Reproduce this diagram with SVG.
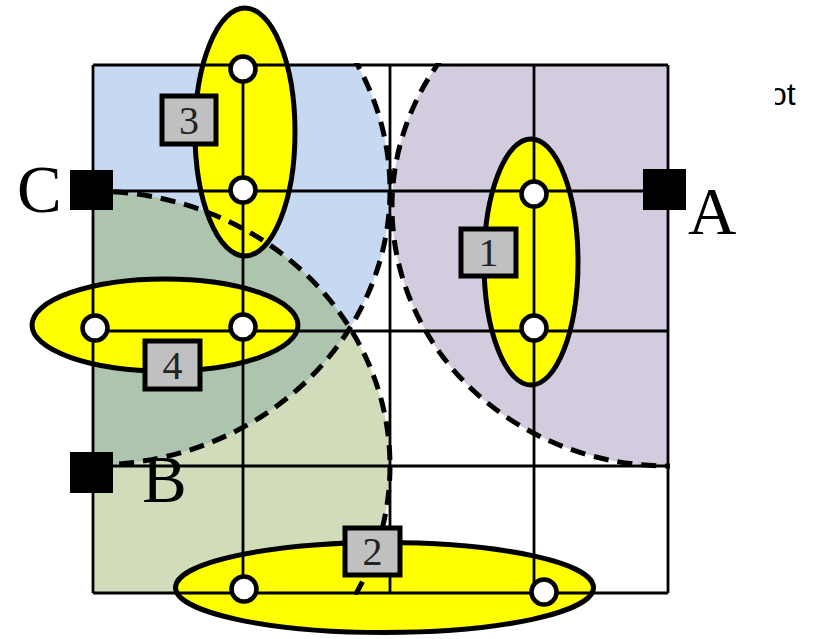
<svg xmlns="http://www.w3.org/2000/svg" width="817" height="639" viewBox="0 0 817 639">
<defs>
<clipPath id="gridClip"><rect x="91" y="63" width="579" height="532"/></clipPath>
<clipPath id="blueClip"><ellipse cx="93" cy="190" rx="297" ry="275"/></clipPath>
<clipPath id="fillClip"><rect x="93" y="65" width="575" height="528"/></clipPath>
<clipPath id="otClip"><rect x="775" y="60" width="42" height="60"/></clipPath>
</defs>
<style>
.dash{fill:none;stroke:#000;stroke-width:5;stroke-dasharray:15 9}
.gl{stroke:#000;stroke-width:2.8;fill:none}
.yel{fill:#ffff00;stroke:#000;stroke-width:5}
.node{fill:#fff;stroke:#000;stroke-width:4.5}
.box{fill:#c0c0c0;stroke:#000;stroke-width:5}
.num{font-family:"Liberation Serif","Times New Roman",serif;font-size:40px;fill:#222;text-anchor:middle}
.big{font-family:"Liberation Serif","Times New Roman",serif;font-size:67px;fill:#000}
.term{fill:#000}
</style>
<rect x="0" y="0" width="817" height="639" fill="#fff"/>

<g id="regions" clip-path="url(#fillClip)">
<ellipse id="region-B" cx="93" cy="466" rx="297" ry="275" fill="#d1dcba"/>
<ellipse id="region-C" cx="93" cy="190" rx="297" ry="275" fill="#c6d9f0"/>
<ellipse id="region-BC" cx="93" cy="466" rx="297" ry="275" fill="#adc4ae" clip-path="url(#blueClip)"/>
<ellipse id="region-A" cx="668" cy="207" rx="276" ry="259" fill="#d3cbde"/>
</g>

<g id="cluster-3"><ellipse class="yel" cx="245" cy="132" rx="50" ry="124"/></g>
<g id="cluster-1"><ellipse class="yel" cx="531" cy="262" rx="47" ry="123"/></g>
<g id="cluster-4"><ellipse class="yel" cx="165" cy="325" rx="133" ry="46"/></g>
<g id="cluster-2"><ellipse class="yel" cx="384.5" cy="587.5" rx="209" ry="45"/></g>

<g id="ranges" clip-path="url(#gridClip)">
<ellipse class="dash" cx="93" cy="466" rx="297" ry="275"/>
<ellipse class="dash" cx="93" cy="190" rx="297" ry="275"/>
<ellipse class="dash" cx="668" cy="207" rx="276" ry="259"/>
</g>

<g id="connectors">
<line class="gl" x1="93" y1="65" x2="93" y2="593"/>
<line class="gl" x1="243" y1="65" x2="243" y2="593"/>
<line class="gl" x1="390" y1="65" x2="390" y2="593"/>
<line class="gl" x1="534" y1="65" x2="534" y2="593"/>
<line class="gl" x1="668" y1="65" x2="668" y2="593"/>
<line class="gl" x1="93" y1="65" x2="668" y2="65"/>
<line class="gl" x1="93" y1="191" x2="668" y2="191"/>
<line class="gl" x1="93" y1="331" x2="668" y2="331"/>
<line class="gl" x1="93" y1="466" x2="668" y2="466"/>
<line class="gl" x1="93" y1="593" x2="668" y2="593"/>
</g>

<g id="nodes">
<circle class="node" cx="243" cy="69" r="12.5"/>
<circle class="node" cx="243" cy="190" r="12.5"/>
<circle class="node" cx="534" cy="194" r="12.5"/>
<circle class="node" cx="534" cy="328" r="12.5"/>
<circle class="node" cx="95" cy="328" r="12.5"/>
<circle class="node" cx="243" cy="327" r="12.5"/>
<circle class="node" cx="244" cy="589" r="12.5"/>
<circle class="node" cx="544" cy="592" r="12.5"/>
</g>

<g id="label-3"><rect class="box" x="162" y="96" width="54" height="48"/><text class="num" x="189" y="134">3</text></g>
<g id="label-1"><rect class="box" x="461" y="229" width="55" height="47"/><text class="num" x="488.5" y="266">1</text></g>
<g id="label-4"><rect class="box" x="145" y="341" width="55" height="48"/><text class="num" x="172.5" y="379">4</text></g>
<g id="label-2"><rect class="box" x="345" y="528" width="55" height="47"/><text class="num" x="372.5" y="565">2</text></g>

<g id="station-C"><rect class="term" x="70" y="170" width="43" height="40"/><text class="big" x="17" y="212">C</text></g>
<g id="station-A"><rect class="term" x="643" y="169" width="43" height="41"/><text class="big" x="688" y="234">A</text></g>
<g id="station-B"><rect class="term" x="70" y="452" width="43" height="41"/><text class="big" x="142" y="502">B</text></g>

<g id="caption" clip-path="url(#otClip)"><text x="769" y="105" font-family="'Liberation Sans',Arial,sans-serif" font-size="32" fill="#000">ot</text></g>
</svg>
